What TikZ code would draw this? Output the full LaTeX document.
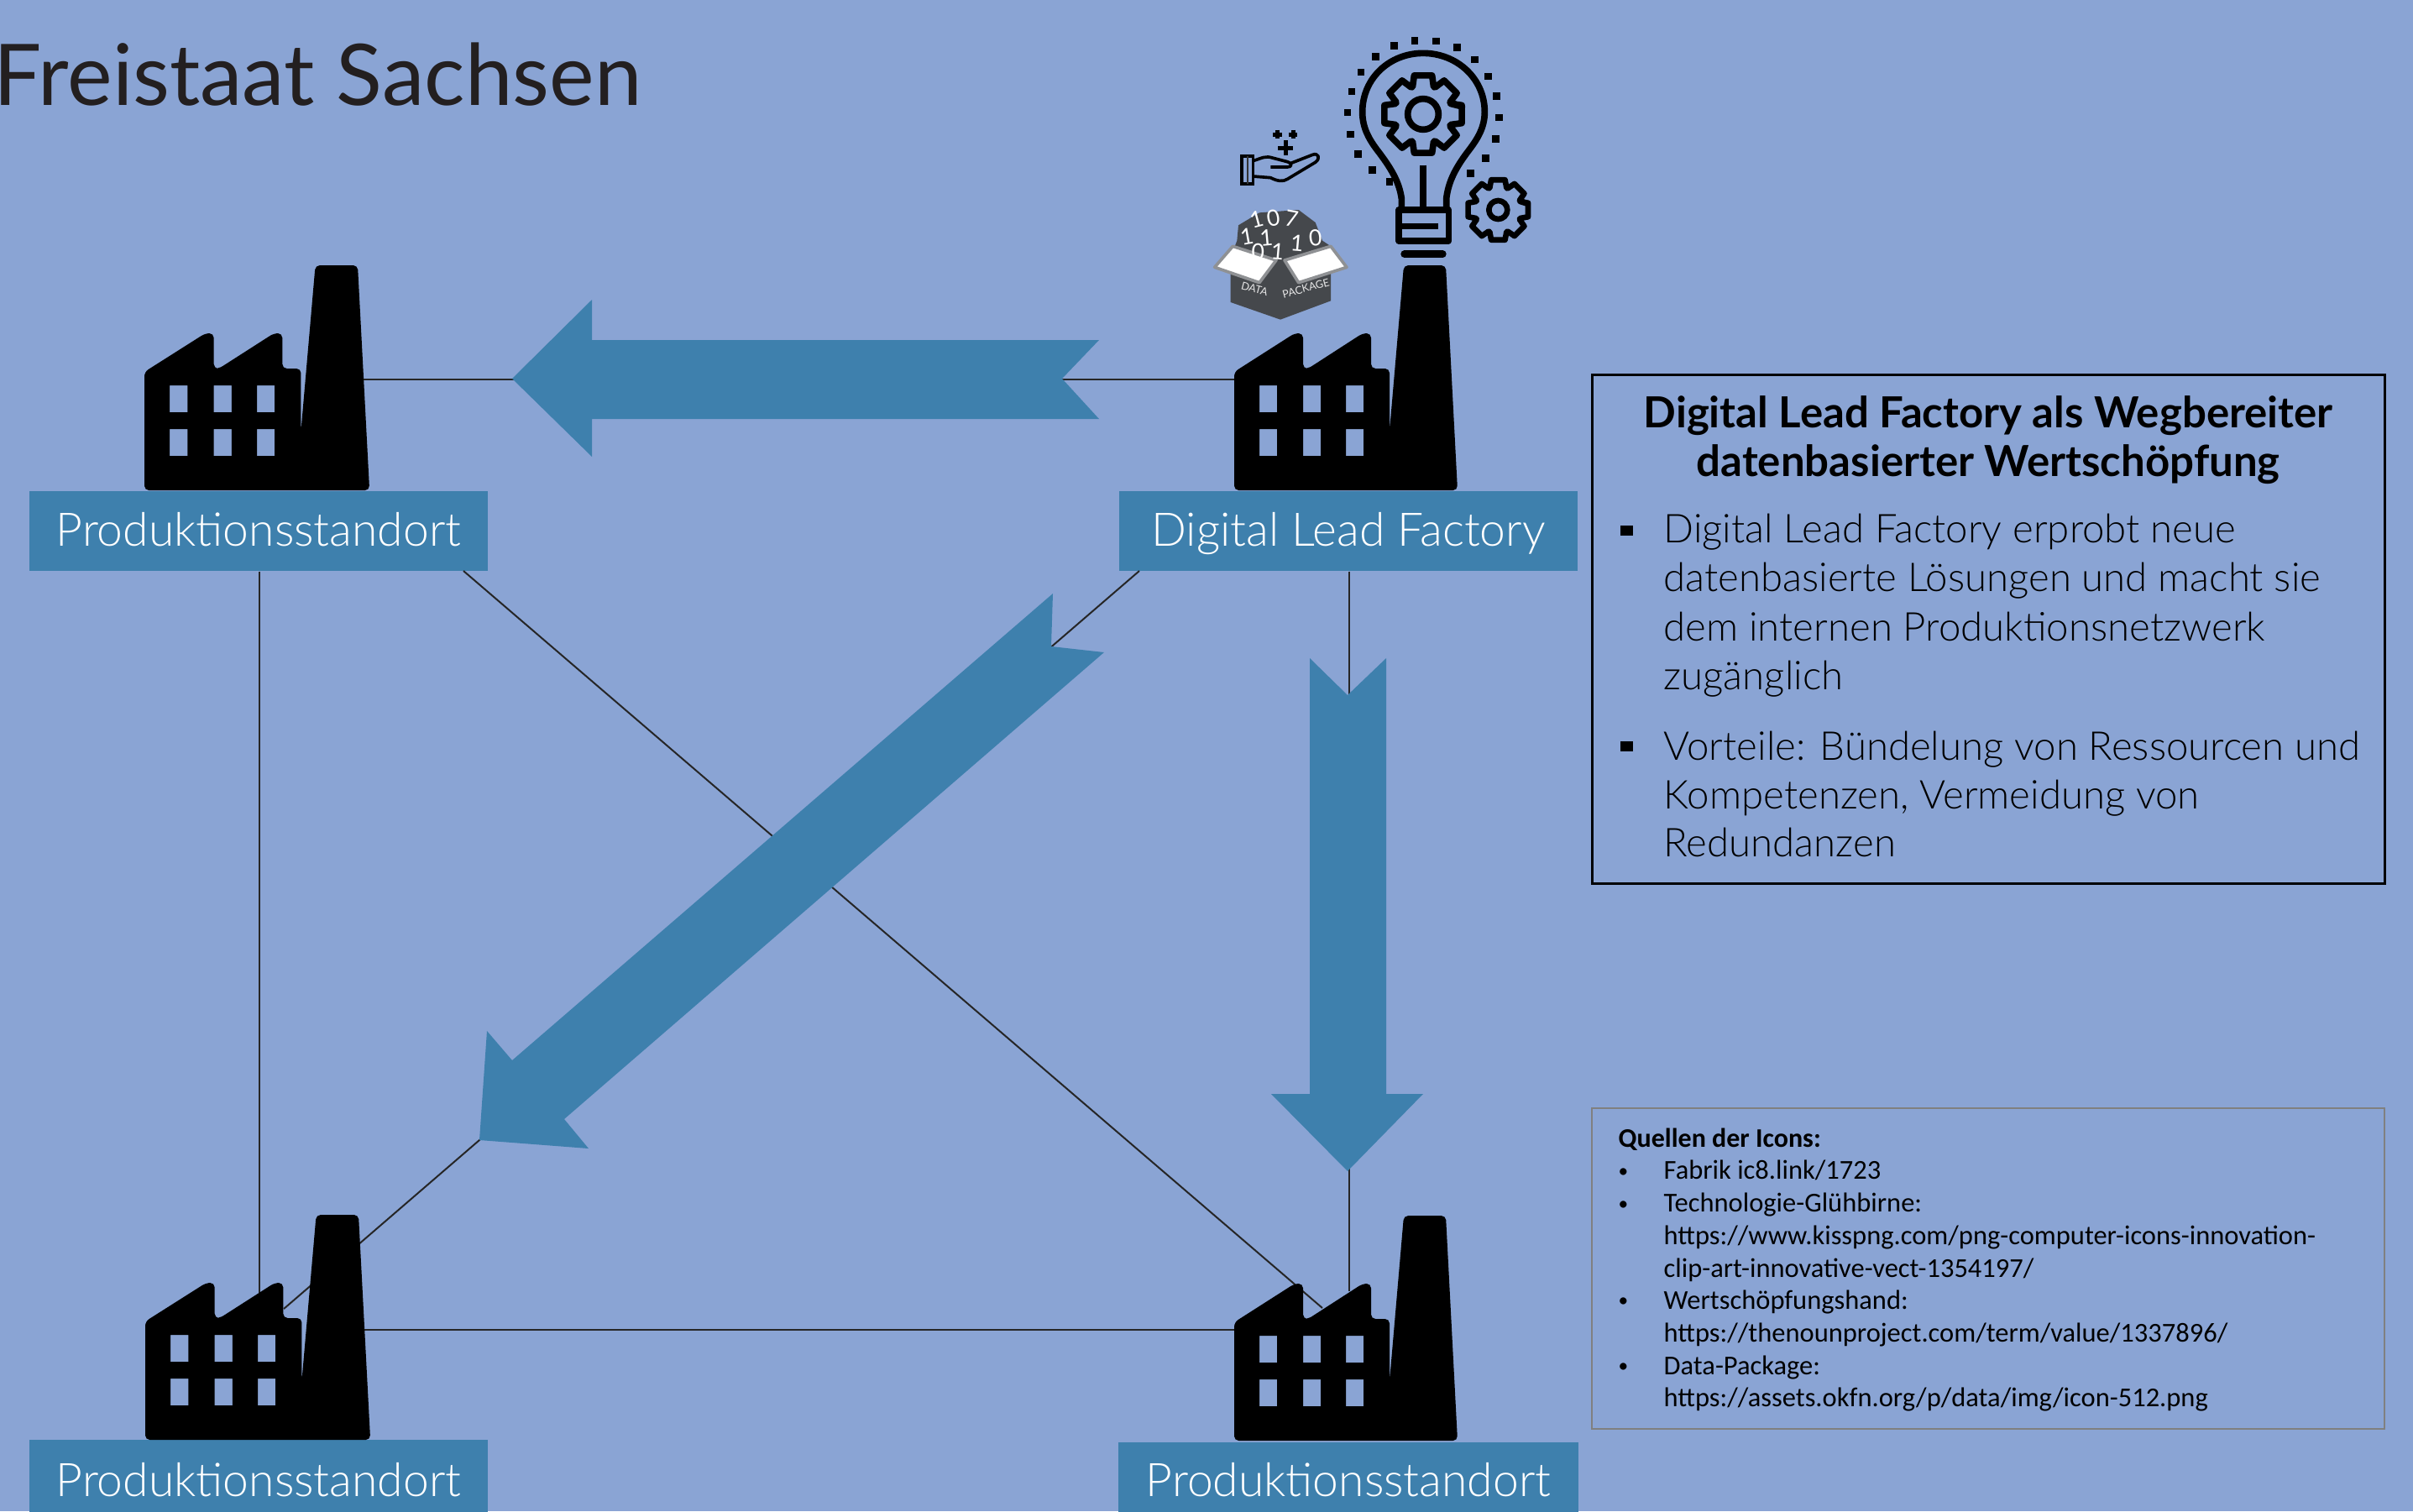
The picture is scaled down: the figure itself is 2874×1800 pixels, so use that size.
\documentclass[tikz,border=0pt]{standalone}
\usepackage{fontspec}
\setmainfont{Lato}[UprightFont=* Light, BoldFont=* Bold]
\newfontfamily\regfont{Lato}
\newfontfamily\calfont{Carlito}
\usetikzlibrary{calc}
\definecolor{bgblue}{RGB}{138,164,212}
\definecolor{boxblue}{RGB}{62,128,173}
\definecolor{titleink}{RGB}{35,31,32}
\definecolor{packgray}{RGB}{69,72,76}
\tikzset{
  x=0.3pt,y=-0.3pt,
  link/.style={draw=black!85,line width=0.6pt},
  bigarrow/.style={fill=boxblue,draw=none},
  sitebox/.style={fill=boxblue,draw=none,minimum height=28.5pt,inner sep=0pt,text=white,
     font=\fontsize{16.55}{18}\selectfont,text height=11.7pt,text depth=1.2pt},
  bodytext/.style={anchor=base west,inner sep=0pt,font=\fontsize{14.2}{16}\selectfont,text=black},
  headtext/.style={anchor=base,inner sep=0pt,font=\fontsize{15.3}{18}\selectfont\bfseries,text=black},
  srctext/.style={anchor=base west,inner sep=0pt,font=\calfont\fontsize{9.75}{12}\selectfont,text=black},
  srcdot/.style={anchor=base west,inner sep=0pt,font=\calfont\fontsize{7}{9}\selectfont,text=black},
  icon/.style={draw=black,line width=2.3pt,line join=round,fill=none},
  fabrik/.pic={
    \fill[black,even odd rule,rounded corners=1.6pt]
      (0,0) -- (0,-141) -- (72,-187) -- (82,-187) -- (82,-145) -- (88,-145) -- (153,-187) -- (163,-187)
      -- (163,-145) -- (185,-145) -- (185,-71) -- (202,-268) -- (252,-268) -- (266,0) -- cycle
      [sharp corners]
      (30,-125) rectangle (51,-93) (82,-125) rectangle (103,-93) (133,-125) rectangle (154,-93)
      (30,-73) rectangle (51,-41) (82,-73) rectangle (103,-41) (133,-73) rectangle (154,-41);
  }
}
\begin{document}
\begin{tikzpicture}
\useasboundingbox (0,0) rectangle (2874,1800);
\clip (0,0) rectangle (2874,1800);
\fill[bgblue] (0,0) rectangle (2874,1800);

% title
\node[anchor=base west,inner sep=0pt,text=titleink,font=\regfont\fontsize{30.4}{34}\selectfont] (title) at (-8,125) {Freistaat Sachsen};

% site boxes
\node[sitebox,minimum width=163.8pt] (tl) at (308,632.5) {Produktionsstandort};
\node[sitebox,minimum width=163.8pt] (dlf) at (1606,632.5) {Digital Lead Factory};
\node[sitebox,minimum width=163.8pt,minimum height=30pt] (bl) at (308,1765) {Produktionsstandort};
\node[sitebox,minimum width=164.4pt] (br) at (1606,1765) {Produktionsstandort};

% connector ends
\coordinate (tlf) at (400,452);
\coordinate (dlff) at (1500,452);
\coordinate (blfr) at (400,1584);
\coordinate (brfl) at (1500,1584);
\coordinate (blroof) at (309,1540);
\coordinate (brroof) at (1607,1538);
\coordinate (tlout) at (552,680);
\coordinate (dlfout) at (1357,680);
\coordinate (brin) at (1575,1558);
\coordinate (blin) at (338,1559);

% connectors
\draw[link] (tlf) -- (dlff);
\draw[link] (blfr) -- (brfl);
\draw[link] (tl.south) ++(1,0) -- (blroof);
\draw[link] (dlf.south) ++(1,0) -- (brroof);
\draw[link] (tlout) -- (brin);
\draw[link] (dlfout) -- (blin);

% arrows
\fill[bigarrow] (610,451) -- (705,357) -- (705,405) -- (1309,405) -- (1265,451) -- (1309,499) -- (705,499) -- (705,544) -- cycle;
\fill[bigarrow] (1605,1395) -- (1514,1303) -- (1560,1303) -- (1560,784) -- (1605,828) -- (1651,784) -- (1651,1303) -- (1695,1303) -- cycle;
\fill[bigarrow] (571,1358) -- (580,1228) -- (610,1263) -- (1254,707) -- (1252,770) -- (1315,777) -- (672,1333) -- (701,1368) -- cycle;

% factories
\pic[xscale=1.008] at (172,584) {fabrik};
\pic at (1470,584) {fabrik};
\pic[xscale=1.008] at (173,1715) {fabrik};
\pic at (1470,1716) {fabrik};

% light bulb, drawn in 3x crop coordinates
\begin{scope}[shift={(1400,20)},scale=0.33333]
  \draw[icon] (808,690) -- (808,650) .. controls (800,590) and (770,540) .. (720,475)
     .. controls (690,435) and (668,395) .. (668,340)
     .. controls (668,220) and (765,130) .. (885,130)
     .. controls (1005,130) and (1105,220) .. (1105,340)
     .. controls (1105,395) and (1080,435) .. (1050,475)
     .. controls (1000,540) and (975,590) .. (968,650) -- (968,690);
  \draw[icon] (798,690) -- (976,690) -- (976,800) -- (798,800) -- cycle;
  \draw[icon] (798,748) -- (938,748);
  \draw[icon,line width=2.4pt] (885,530) -- (885,690);
  \draw[icon,line cap=round,line width=2.6pt] (818,848) -- (955,848);
  \foreach \dx/\dy in {855/85,932/87,1007/110,1070/153,1118/213,1148/283,1157/360,1145/436,1108/505,1055/560,
      782/103,715/142,663/198,630/267,615/342,625/420,653/490,703/548,765/590}
    \fill[black] (\dx-13,\dy-13) rectangle (\dx+13,\dy+13);
  \begin{scope}[shift={(885,348)}]
    \draw[icon] (-11:142) \foreach \a in {0,45,...,315} { -- (\a-21:105) -- (\a-13:142) -- (\a+13:142) -- (\a+21:105) } -- cycle;
    \draw[icon] (0,0) circle[radius=55];
  \end{scope}
  \begin{scope}[shift={(1153,690)}]
    \draw[icon,line width=2pt] (-11:110) \foreach \a in {0,45,...,315} { -- (\a-21:84) -- (\a-13:110) -- (\a+13:110) -- (\a+21:84) } -- cycle;
    \draw[icon,line width=2pt] (0,0) circle[radius=33];
  \end{scope}

  % hand
  \draw[draw=black,line width=1.1pt,fill=none] (237,497) rectangle (277,597);
  \fill[black!80] (254,497) rectangle (262,597);
  \draw[draw=black,line width=1.1pt,line join=round]
     (277,515) .. controls (310,505) and (320,495) .. (350,505) -- (400,518)
     .. controls (420,525) and (415,537) .. (400,537) -- (340,537);
  \draw[draw=black,line width=1.1pt,line join=round]
     (408,525) -- (490,493) .. controls (510,485) and (520,505) .. (500,520) -- (400,580)
     .. controls (385,590) and (365,588) .. (340,575) -- (277,570);
  \foreach \px/\py/\ps in {365/420/16,420/420/16,393/468/26}
    \draw[black,line width=1.5pt] (\px-\ps,\py) -- (\px+\ps,\py) (\px,\py-\ps) -- (\px,\py+\ps);

  % data package
  \fill[packgray] (225,745) -- (300,700) -- (440,690) -- (500,735) -- (525,800) -- (555,820) -- (555,1015) -- (375,1082) -- (197,1020) -- (197,860) -- (220,800) -- cycle;
  \draw[draw=packgray!60,line width=1.1pt,fill=white,line join=round] (205,820) -- (360,870) -- (300,950) -- (140,895) -- cycle;
  \draw[draw=packgray!60,line width=1.1pt,fill=white,line join=round] (390,870) -- (555,820) -- (612,895) -- (440,950) -- cycle;
  \foreach \tx/\ty/\tr/\tt [count=\ti] in {290/725/15/1,350/720/10/0,415/722/-10/7,255/785/10/1,325/790/5/1,
      295/840/0/0,365/840/-5/1,435/810/-5/1,500/790/5/0}
    \node[text=white,inner sep=0pt,font=\regfont\fontsize{8}{9}\selectfont,rotate=\tr] (digit\ti) at (\tx,\ty) {\tt};
  \node[text=black!10,inner sep=0pt,font=\regfont\fontsize{3.8}{4}\selectfont,rotate=-15] (pdata) at (283,972) {DATA};
  \node[text=black!10,inner sep=0pt,font=\regfont\fontsize{3.8}{4}\selectfont,rotate=15] (ppack) at (466,970) {PACKAGE};
\end{scope}

% main panel
\draw[black,line width=0.9pt] (1896,446) rectangle (2840,1052);
\node[headtext] (h1) at (2368,509) {Digital Lead Factory als Wegbereiter};
\node[headtext] (h2) at (2368,567) {datenbasierter Wertschöpfung};
\fill[black] (1930,626) rectangle (1945,638);
\fill[black] (1930,883) rectangle (1945,895);
\node[bodytext] (b1) at (1981,646) {Digital Lead Factory erprobt neue};
\node[bodytext] (b2) at (1981,704) {datenbasierte Lösungen und macht sie};
\node[bodytext] (b3) at (1981,763) {dem internen Produktionsnetzwerk};
\node[bodytext] (b4) at (1981,821) {zugänglich};
\node[bodytext] (b5) at (1981,905) {Vorteile: Bündelung von Ressourcen und};
\node[bodytext] (b6) at (1981,963) {Kompetenzen, Vermeidung von};
\node[bodytext] (b7) at (1981,1020) {Redundanzen};

% sources panel
\draw[black!50,line width=0.7pt] (1896,1320) rectangle (2840,1702);
\node[srctext,font=\calfont\bfseries\fontsize{9.6}{12}\selectfont] (s0) at (1927,1366) {Quellen der Icons:};
\node[srcdot] (d1) at (1927,1402) {•};
\node[srcdot] (d2) at (1927,1441) {•};
\node[srcdot] (d3) at (1927,1556) {•};
\node[srcdot] (d4) at (1927,1634) {•};
\node[srctext] (s1) at (1981,1404) {Fabrik ic8.link/1723};
\node[srctext] (s2) at (1981,1443) {Technologie-Glühbirne:};
\node[srctext] (s3) at (1981,1482) {https://www.kisspng.com/png-computer-icons-innovation-};
\node[srctext] (s4) at (1981,1521) {clip-art-innovative-vect-1354197/};
\node[srctext] (s5) at (1981,1559) {Wertschöpfungshand:};
\node[srctext] (s6) at (1981,1598) {https://thenounproject.com/term/value/1337896/};
\node[srctext] (s7) at (1981,1637) {Data-Package:};
\node[srctext] (s8) at (1981,1675) {https://assets.okfn.org/p/data/img/icon-512.png};
\end{tikzpicture}
\end{document}
